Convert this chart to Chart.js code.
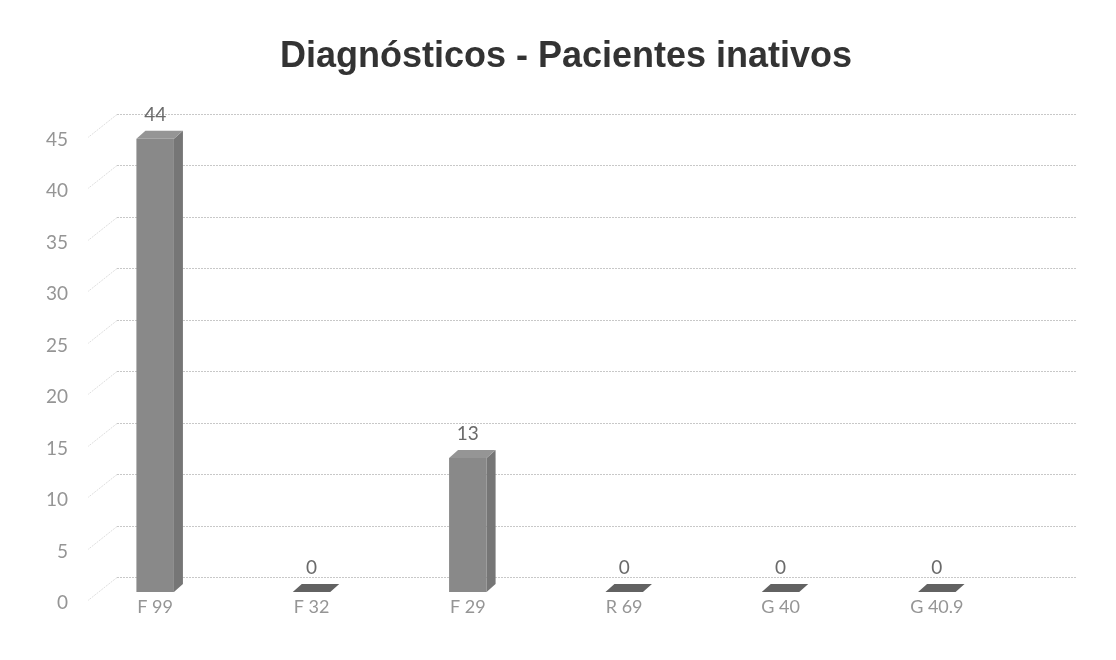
<!DOCTYPE html>
<html>
<head>
<meta charset="utf-8">
<script src="https://cdn.jsdelivr.net/npm/chart.js@4"></script>
<style>
html,body{margin:0;padding:0;background:#ffffff;}
#wrap{width:1116px;height:660px;position:relative;}
</style>
</head>
<body>
<div id="wrap"><canvas id="c" width="1116" height="660"></canvas></div>
<script>
const categories = ['F 99', 'F 32', 'F 29', 'R 69', 'G 40', 'G 40.9'];
const values = [44, 0, 13, 0, 0, 0];
const yMin = 0;
const yMax = 45;
const yStep = 5;
const titleText = 'Diagnósticos - Pacientes inativos';

const DEPTH_X = 9, DEPTH_Y = 8;       // bar depth (3D look)
const WALL_X = 40, WALL_Y = 15;       // back wall offset for gridlines

const titleDraw = {
  id: 'titleDraw',
  afterDraw(chart) {
    const {ctx} = chart;
    ctx.save();
    ctx.fillStyle = '#333333';
    ctx.font = 'bold 36px "Liberation Sans", Arial, sans-serif';
    ctx.textAlign = 'center';
    ctx.textBaseline = 'middle';
    ctx.fillText(titleText, 566, 57);
    ctx.restore();
  }
};

const backGrid = {
  id: 'backGrid',
  beforeDatasetsDraw(chart) {
    const {ctx, chartArea, scales: {y}} = chart;
    ctx.save();
    ctx.lineWidth = 1;
    y.ticks.forEach(t => {
      const py = Math.round(y.getPixelForValue(t.value) - WALL_Y) + 0.5;
      const x0 = chartArea.left + WALL_X;
      ctx.strokeStyle = '#c8c8c8';
      ctx.setLineDash([2, 1]);
      ctx.beginPath();
      ctx.moveTo(x0, py);
      ctx.lineTo(chartArea.right + 62, py);
      ctx.stroke();
      ctx.strokeStyle = '#dedede';
      ctx.beginPath();
      ctx.moveTo(x0, py);
      ctx.lineTo(x0 - 29, py + 23);
      ctx.stroke();
    });
    ctx.restore();
  }
};

const bars3d = {
  id: 'bars3d',
  afterDatasetsDraw(chart) {
    const {ctx} = chart;
    const meta = chart.getDatasetMeta(0);
    ctx.save();
    meta.data.forEach((bar, i) => {
      const p = bar.getProps(['x', 'y', 'base', 'width'], true);
      const l = p.x - p.width / 2, r = p.x + p.width / 2;
      if (p.base - p.y > 0.5) {
        ctx.fillStyle = '#767676';
        ctx.beginPath();
        ctx.moveTo(r, p.y);
        ctx.lineTo(r + DEPTH_X, p.y - DEPTH_Y);
        ctx.lineTo(r + DEPTH_X, p.base - DEPTH_Y);
        ctx.lineTo(r, p.base);
        ctx.closePath();
        ctx.fill();
      }
      ctx.fillStyle = values[i] === 0 ? '#626262' : '#959595';
      ctx.beginPath();
      ctx.moveTo(l, p.y);
      ctx.lineTo(r, p.y);
      ctx.lineTo(r + DEPTH_X, p.y - DEPTH_Y);
      ctx.lineTo(l + DEPTH_X, p.y - DEPTH_Y);
      ctx.closePath();
      ctx.fill();
      ctx.fillStyle = '#6a6a6a';
      ctx.font = '19px Lato, "Open Sans", sans-serif';
      ctx.textAlign = 'center';
      ctx.textBaseline = 'middle';
      ctx.fillText(String(values[i]), p.x, p.y - 24);
    });
    ctx.restore();
  }
};

new Chart(document.getElementById('c'), {
  type: 'bar',
  data: {
    labels: categories,
    datasets: [{
      data: values,
      backgroundColor: '#898989',
      borderWidth: 0,
      categoryPercentage: 1.0,
      barPercentage: 0.24
    }]
  },
  options: {
    responsive: false,
    animation: false,
    devicePixelRatio: 1,
    layout: { padding: { left: 0, right: 101, top: 128.5, bottom: 0 } },
    plugins: {
      legend: { display: false },
      tooltip: { enabled: false },
      title: { display: false }
    },
    scales: {
      x: {
        grid: { display: false, drawTicks: false },
        border: { display: false },
        ticks: {
          color: '#959595',
          font: { family: 'Lato, "Open Sans", sans-serif', size: 18 },
          padding: 4,
          maxRotation: 0
        },
        afterFit(scale) { scale.height = 68; }
      },
      y: {
        min: yMin,
        max: yMax,
        grid: { display: false, drawTicks: false },
        border: { display: false },
        ticks: {
          stepSize: yStep,
          color: '#959595',
          font: { family: 'Lato, "Open Sans", sans-serif', size: 19 },
          padding: 9,
          labelOffset: 11
        },
        afterFit(scale) { scale.width = 77; }
      }
    }
  },
  plugins: [backGrid, bars3d, titleDraw]
});
</script>
</body>
</html>
